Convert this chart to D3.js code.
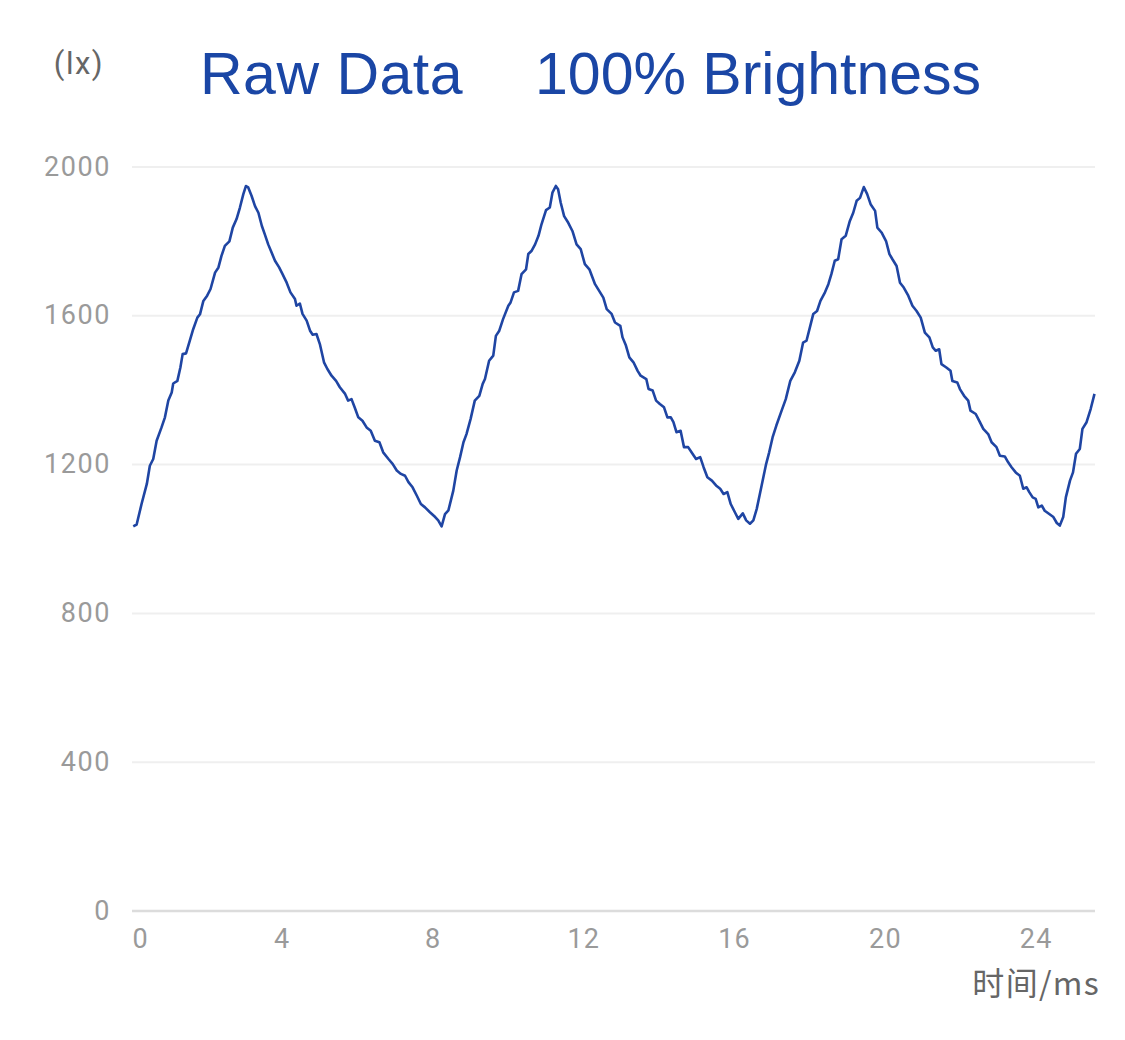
<!DOCTYPE html>
<html><head><meta charset="utf-8">
<script src="https://cdn.jsdelivr.net/npm/d3@7"></script>
<style>body{margin:0;background:#fff}svg{display:block}</style>
</head><body>
<svg id="chart" width="1125" height="1040"></svg>
<script>
const timesMs = [0.06,0.15,0.28,0.42,0.50,0.59,0.68,0.81,0.90,0.99,1.08,1.12,1.23,1.31,1.37,1.46,1.56,1.65,1.76,1.83,1.92,2.02,2.11,2.23,2.32,2.40,2.49,2.61,2.70,2.80,2.89,2.98,3.05,3.11,
3.20,3.29,3.38,3.47,3.55,3.64,3.73,3.82,3.93,4.02,4.13,4.23,4.35,4.39,4.48,4.55,4.66,4.75,4.82,4.92,5.01,5.12,5.21,5.32,5.44,5.54,5.68,5.76,5.85,5.94,6.03,6.14,6.25,6.36,6.47,6.59,6.69,6.83,6.94,7.05,7.16,7.27,7.36,7.47,7.58,7.69,7.80,7.93,8.07,8.15,8.24,
8.33,8.42,8.55,8.64,8.73,8.82,8.90,9.01,9.12,9.24,9.33,9.39,9.50,9.61,9.68,9.77,9.87,10.01,10.07,10.16,10.27,10.36,10.48,10.54,10.63,10.72,10.81,10.89,11.01,11.11,11.18,11.27,11.33,
11.40,11.49,11.60,11.71,11.82,11.93,12.04,12.16,12.31,12.42,12.53,12.62,12.75,12.84,12.98,13.04,13.13,13.22,13.33,13.44,13.52,13.67,13.73,13.84,13.93,14.03,14.14,14.23,14.32,14.39,14.47,14.58,14.67,14.78,14.87,14.99,15.10,15.19,15.29,15.41,15.52,15.63,15.72,15.82,15.91,16.02,16.11,16.23,16.32,16.42,
16.51,16.60,16.73,16.85,16.93,17.02,17.12,17.26,17.37,17.49,17.61,17.73,17.83,17.92,18.01,18.10,18.20,18.29,18.41,18.50,18.58,18.67,18.76,18.85,18.96,19.07,19.16,19.25,19.34,19.44,
19.53,19.62,19.74,19.80,19.91,20.03,20.12,20.20,20.31,20.40,20.50,20.62,20.73,20.84,20.95,21.06,21.18,21.27,21.35,21.44,21.50,21.63,21.74,21.79,21.92,21.99,22.10,22.21,22.27,22.41,22.52,22.61,22.74,22.83,22.96,23.05,23.18,23.27,23.36,23.47,23.58,23.67,23.76,23.83,23.92,24.00,24.07,24.16,24.24,24.36,24.47,24.56,24.64,
24.73,24.80,24.91,24.99,25.07,25.17,25.24,25.35,25.46,25.56];
const luxValues = [1034,1039,1094,1148,1197,1215,1264,1300,1327,1372,1394,1418,1425,1461,1497,1499,1533,1564,1595,1604,1640,1654,1672,1716,1730,1761,1788,1800,1837,1860,1891,1927,1949,1945,
1922,1895,1877,1842,1819,1792,1770,1748,1730,1712,1689,1663,1645,1627,1633,1605,1587,1560,1549,1551,1524,1475,1457,1439,1425,1408,1390,1372,1376,1352,1327,1318,1300,1291,1264,1260,1233,1215,1202,1184,1175,1170,1153,1139,1117,1094,1085,1072,1059,1050,1034,
1067,1077,1130,1184,1220,1260,1282,1323,1372,1385,1417,1430,1479,1493,1546,1560,1591,1627,1636,1663,1667,1712,1725,1766,1775,1792,1815,1846,1884,1891,1931,1949,1940,
1904,1868,1850,1828,1792,1779,1739,1725,1685,1667,1649,1618,1605,1582,1573,1542,1520,1488,1475,1452,1439,1430,1403,1399,1372,1363,1354,1327,1327,1314,1287,1291,1247,1247,1233,1215,1220,1193,1166,1157,1144,1135,1121,1126,1094,1072,1054,1069,1050,1041,
1050,1081,1144,1202,1233,1273,1305,1345,1376,1425,1448,1479,1528,1533,1569,1605,1613,1640,1663,1685,1712,1748,1752,1806,1815,1855,1877,1909,1917,1946,
1927,1900,1882,1837,1824,1801,1766,1752,1734,1689,1676,1654,1627,1613,1595,1555,1542,1515,1506,1510,1470,1461,1452,1425,1421,1403,1385,1372,1345,1336,1314,1296,1282,1260,1247,1224,1222,1206,1193,1179,1170,1135,1139,1126,1112,1108,1085,1090,1076,1067,1059,1043,1036,
1059,1112,1157,1179,1229,1242,1296,1314,1350,1390];
const yTicks = [0,400,800,1200,1600,2000];
const xTicks = [0,4,8,12,16,20,24];
const titleLeft = "Raw Data";
const titleRight = "100% Brightness";
const yUnit = "(lx)";
const xUnit = "时间/ms";

const svg = d3.select("#chart");
const x = d3.scaleLinear().domain([0, 25.6]).range([131, 1096]);
const y = d3.scaleLinear().domain([0, 2000]).range([911, 167]);
const font = "Roboto, 'Noto Sans', sans-serif";

// grid
svg.append("g").selectAll("line").data(yTicks.filter(d => d > 0)).join("line")
  .attr("x1", 132).attr("x2", 1095)
  .attr("y1", d => y(d)).attr("y2", d => y(d))
  .attr("stroke", "#efefef").attr("stroke-width", 2);
// axis line
svg.append("line").attr("x1", 132).attr("x2", 1095).attr("y1", y(0)).attr("y2", y(0))
  .attr("stroke", "#dcdcdc").attr("stroke-width", 2.5);

// y axis
const gy = svg.append("g").attr("transform", "translate(131,0)")
  .call(d3.axisLeft(y).tickValues(yTicks).tickSize(0).tickPadding(20).tickFormat(d3.format("d")));
gy.select(".domain").remove();
gy.selectAll("text").attr("font-family", font).attr("font-size", 27).attr("letter-spacing", 1.6)
  .attr("fill", "#9a9a9a").attr("dy", "0.3em");

// x axis
const gx = svg.append("g").attr("transform", "translate(0,911)")
  .call(d3.axisBottom(x).tickValues(xTicks).tickSize(0).tickPadding(18));
gx.select(".domain").remove();
gx.selectAll("text").attr("font-family", font).attr("font-size", 27).attr("letter-spacing", 1.2)
  .attr("fill", "#9a9a9a")
  .attr("text-anchor", d => d === 0 ? "start" : "middle")
  .attr("dx", d => d === 0 ? 1 : 0);

// line
const pts = timesMs.map((t, i) => [t, luxValues[i]]);
svg.append("path").datum(pts)
  .attr("fill", "none").attr("stroke", "#1f45a3").attr("stroke-width", 2.6)
  .attr("stroke-linejoin", "round")
  .attr("d", d3.line().x(d => x(d[0])).y(d => y(d[1])));

// labels
svg.append("text").attr("x", 79).attr("y", 74).attr("text-anchor", "middle")
  .attr("font-family", font).attr("font-size", 31).attr("letter-spacing", 1.5).attr("fill", "#666").text(yUnit);
svg.append("text").attr("x", 1100).attr("y", 995).attr("text-anchor", "end")
  .attr("font-family", "'Noto Sans CJK SC', sans-serif").attr("font-size", 32).attr("letter-spacing", 1.3).attr("fill", "#666").text(xUnit);
svg.append("text").attr("x", 200).attr("y", 94)
  .attr("font-family", "'Liberation Sans', Arial, sans-serif").attr("font-size", 59).attr("letter-spacing", 0.5).attr("fill", "#1a46a5").text(titleLeft);
svg.append("text").attr("x", 535).attr("y", 94)
  .attr("font-family", "'Liberation Sans', Arial, sans-serif").attr("font-size", 59).attr("fill", "#1a46a5").text(titleRight);
</script>
</body></html>
